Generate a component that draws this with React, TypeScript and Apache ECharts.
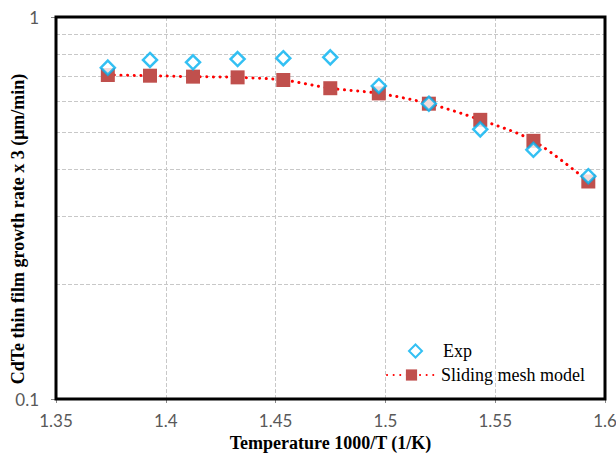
import React, { useEffect, useRef } from "react";
import * as echarts from "echarts";

const xValues = [1.3736, 1.3928, 1.4124, 1.4327, 1.4535, 1.4749, 1.497, 1.5198, 1.5432, 1.5674, 1.5924];
const expValues = [0.737, 0.772, 0.761, 0.776, 0.78, 0.784, 0.66, 0.593, 0.508, 0.449, 0.383];
const modelValues = [0.705, 0.702, 0.698, 0.695, 0.684, 0.651, 0.631, 0.593, 0.538, 0.474, 0.371];
const minorGridValues = [0.2, 0.3, 0.4, 0.5, 0.6, 0.7, 0.8, 0.9];

export default function App() {
  const ref = useRef<HTMLDivElement>(null);
  useEffect(() => {
    document.body.style.margin = "0";
    const chart = echarts.init(ref.current!, null, { renderer: "svg" });
    const serif = "'Liberation Serif', 'Times New Roman', serif";
    const sans = "Lato, 'Open Sans', sans-serif";
    const legendText = { fontFamily: serif, fontSize: 18, color: "#000" };
    chart.setOption({
      animation: false,
      backgroundColor: "#ffffff",
      grid: {
        left: 56,
        right: 11,
        top: 17,
        bottom: 62,
        containLabel: false,
        outerBoundsMode: "none",
        show: true,
        borderColor: "#000000",
        borderWidth: 3,
        backgroundColor: "transparent",
        z: 3,
      },
      legend: [
        {
          orient: "vertical",
          left: 408,
          top: 342,
          padding: 0,
          itemWidth: 13,
          itemHeight: 13,
          data: ["Exp"],
          textStyle: { ...legendText, padding: [0, 0, 0, 16] },
        },
        {
          orient: "vertical",
          left: 386,
          top: 366,
          padding: 0,
          itemWidth: 49,
          itemHeight: 14,
          data: ["Sliding mesh model"],
          textStyle: legendText,
        },
      ],
      xAxis: {
        type: "value",
        min: 1.35,
        max: 1.6,
        interval: 0.05,
        name: "Temperature 1000/T (1/K)",
        nameLocation: "middle",
        nameGap: 33,
        nameTextStyle: { fontFamily: serif, fontSize: 18, fontWeight: "bold", color: "#000" },
        axisLine: { show: false },
        axisTick: { show: true, length: 4, lineStyle: { color: "#888" } },
        axisLabel: {
          fontFamily: sans,
          fontSize: 17,
          color: "#595959",
          margin: 13,
          formatter: (v: number) => String(parseFloat(v.toFixed(2))),
        },
        splitLine: {
          show: true,
          showMinLine: false,
          showMaxLine: false,
          lineStyle: { type: "dashed", color: "#c8c8c8", width: 1 },
        },
      },
      yAxis: {
        type: "log",
        logBase: 10,
        min: 0.1,
        max: 1,
        name: "CdTe thin film growth rate x 3 (μm/min)",
        nameLocation: "middle",
        nameMoveOverlap: false,
        nameGap: 29,
        nameTextStyle: {
          fontFamily: serif,
          fontSize: 18,
          fontWeight: "bold",
          color: "#000",
          padding: [0, 42, 0, 0],
        },
        axisLine: { show: false },
        axisTick: { show: true, length: 5, lineStyle: { color: "#888" } },
        axisLabel: {
          fontFamily: sans,
          fontSize: 17,
          color: "#595959",
          margin: 17,
          formatter: (v: number) => String(parseFloat(v.toPrecision(3))),
        },
        splitLine: { show: false },
      },
      series: [
        {
          name: "Sliding mesh model",
          type: "line",
          data: xValues.map((x, i) => [x, modelValues[i]]),
          smooth: 0.3,
          symbol: "rect",
          symbolSize: 14,
          itemStyle: { color: "#c0504d" },
          lineStyle: { color: "#ff0000", width: 3, type: [0.1, 6.5], cap: "round" },
          z: 4,
          markLine: {
            silent: true,
            symbol: "none",
            label: { show: false },
            lineStyle: { type: "dashed", color: "#c8c8c8", width: 1 },
            data: minorGridValues.map((v) => ({ yAxis: v })),
            z: 1,
          },
        },
        {
          name: "Exp",
          type: "scatter",
          data: xValues.map((x, i) => [x, expValues[i]]),
          symbol: "diamond",
          symbolSize: 14,
          itemStyle: { color: "#ffffff", borderColor: "#00b0f0", borderWidth: 2.5 },
          z: 5,
        },
      ],
    });
    return () => chart.dispose();
  }, []);
  return <div ref={ref} style={{ width: 616, height: 461 }} />;
}
